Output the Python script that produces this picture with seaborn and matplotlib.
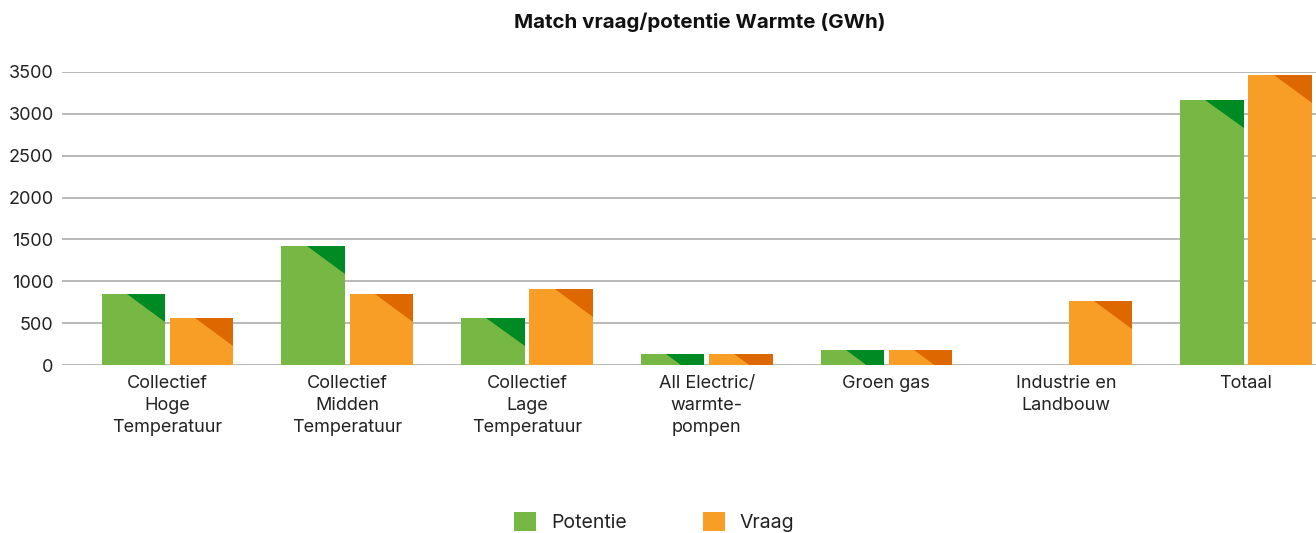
import numpy as np
import pandas as pd
import matplotlib.pyplot as plt
import seaborn as sns
from matplotlib.patches import Polygon, Patch

# data
categories = ['Collectief\nHoge\nTemperatuur', 'Collectief\nMidden\nTemperatuur',
              'Collectief\nLage\nTemperatuur', 'All Electric/\nwarmte-\npompen',
              'Groen gas', 'Industrie en\nLandbouw', 'Totaal']
potentie = [850, 1420, 560, 130, 180, 0, 3165]
vraag = [560, 850, 910, 130, 180, 765, 3465]
series = ['Potentie', 'Vraag']
y_ticks = [0, 500, 1000, 1500, 2000, 2500, 3000, 3500]

kleur = {'Potentie': '#77B743', 'Vraag': '#F89E26'}
kleur_donker = {'Potentie': '#008A24', 'Vraag': '#DE6800'}

df = pd.DataFrame({
    'categorie': categories * 2,
    'reeks': ['Potentie'] * len(categories) + ['Vraag'] * len(categories),
    'waarde': potentie + vraag,
})

sns.set_style('white')
plt.rcParams['font.family'] = ['Inter', 'DejaVu Sans']

fig = plt.figure(figsize=(13.16, 5.33), dpi=100)
ax = fig.add_axes([0.0471, 0.315, 0.9529, 0.55])

sns.barplot(data=df, x='categorie', y='waarde', hue='reeks', hue_order=series,
            palette=kleur, width=0.76, gap=0.07, saturation=1, legend=False,
            errorbar=None, linewidth=0, ax=ax)

# donkere driehoek rechtsboven in elke staaf
tri_h = 335
for i, p in enumerate(list(ax.patches)):
    naam = series[i // len(categories)]
    x, w, h = p.get_x(), p.get_width(), p.get_height()
    tri = Polygon([(x + 0.4 * w, h), (x + w, h), (x + w, h - tri_h)],
                  closed=True, facecolor=kleur_donker[naam], edgecolor='none',
                  linewidth=0, zorder=3)
    tri.set_clip_path(p)
    ax.add_patch(tri)

ax.set_ylim(0, 3500)
ax.set_xlim(-0.587, 6.39)
ax.set_yticks(y_ticks)
ax.yaxis.grid(True, color='#b3b3b3', linewidth=1.3)
ax.set_axisbelow(True)
for s in ax.spines.values():
    s.set_visible(False)
ax.tick_params(axis='y', length=0, pad=6, labelsize=13, labelcolor='#222222')
ax.tick_params(axis='x', length=0, pad=7, labelsize=13, labelcolor='#222222')
for lbl in ax.get_xticklabels():
    lbl.set_linespacing(1.38)
    lbl.set_verticalalignment('top')
ax.set_xlabel('')
ax.set_ylabel('')

fig.text(0.532, 0.958, 'Match vraag/potentie Warmte (GWh)', ha='center', va='center',
         fontsize=14.8, fontweight='bold', color='#111111')

handles = [Patch(facecolor=kleur[s], edgecolor='none', label=s) for s in series]
fig.legend(handles=handles, loc='upper center', bbox_to_anchor=(0.497, 0.072),
           ncol=2, frameon=False, fontsize=14, handlelength=1.13, handleheight=1.13,
           handletextpad=0.77, columnspacing=3.9, labelcolor='#222222')

fig.savefig('out.png', dpi=100)
plt.close(fig)
